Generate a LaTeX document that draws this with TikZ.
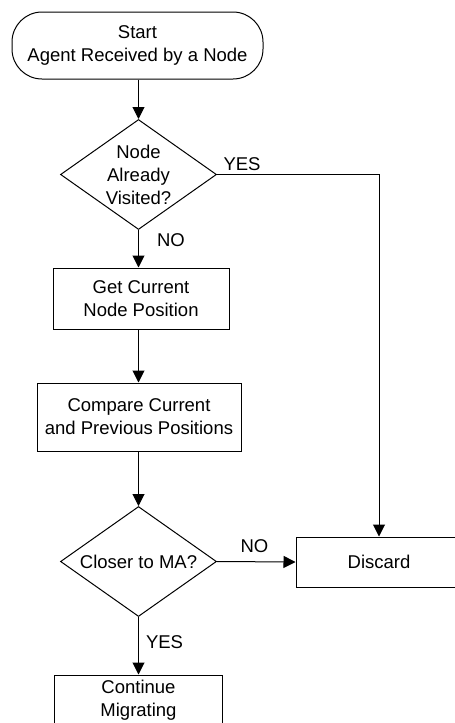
\documentclass[tikz,border=0pt]{standalone}
\usepackage{fontspec}
\setmainfont{Liberation Sans}
\usetikzlibrary{shapes.geometric,arrows.meta}
\begin{document}
\begin{tikzpicture}[x=1pt,y=-1pt,
    font=\fontsize{18.5}{23}\selectfont,
    terminal/.style={draw, align=center, line width=1pt, rounded corners=30pt,
        minimum width=251pt, minimum height=67pt, inner sep=0pt},
    box/.style={draw, align=center, line width=1pt, inner sep=0pt},
    decision/.style={draw, align=center, line width=1pt, diamond, shape aspect=1.43,
        inner sep=0pt, minimum width=156pt, minimum height=110pt},
    flow/.style={line width=1pt, -{Triangle[length=12pt,width=12pt]}},
    tag/.style={anchor=base west, inner sep=0pt}]
    % page = 455 x 723
    \useasboundingbox (0,0) rectangle (455,723);
    \clip (0,0) rectangle (455,723);

    \node [terminal] (start) at (137.5,45.5) {Start\\Agent Received by a Node};
    \node [decision] (visited) at (138.5,174.5) {Node\\Already\\Visited?};
    \node [box, minimum width=176pt, minimum height=61pt] (pos) at (141,298.5) {Get Current\\Node Position};
    \node [box, minimum width=204pt, minimum height=68pt] (cmp) at (139,417) {Compare Current\\and Previous Positions};
    \node [decision] (ma) at (138.5,561.5) {Closer to MA?};
    \node [box, minimum width=166pt, minimum height=50pt] (discard) at (379,562) {Discard};
    \node [box, minimum width=168pt, minimum height=50pt] (cont) at (138.5,700) {Continue\\Migrating};

    \draw [flow] (visited.north |- start.south) -- (visited.north);
    \draw [flow] (visited.south) node [tag, xshift=18pt, yshift=-16.5pt] (no1) {NO} -- (visited.south |- pos.north);
    \draw [flow] (visited.south |- pos.south) -- (visited.south |- cmp.north);
    \draw [flow] (visited.south |- cmp.south) -- (ma.north);
    \draw [flow] (ma.south) node [tag, xshift=7pt, yshift=-31pt] (yes2) {YES} -- (cont.north);
    \draw [flow] (ma.east) node [tag, xshift=23pt, yshift=9pt] (no2) {NO} -- (discard.west);
    \draw [flow] (visited.east) node [tag, xshift=6pt, yshift=4pt] (yes1) {YES} -| (discard.north);
\end{tikzpicture}
\end{document}
